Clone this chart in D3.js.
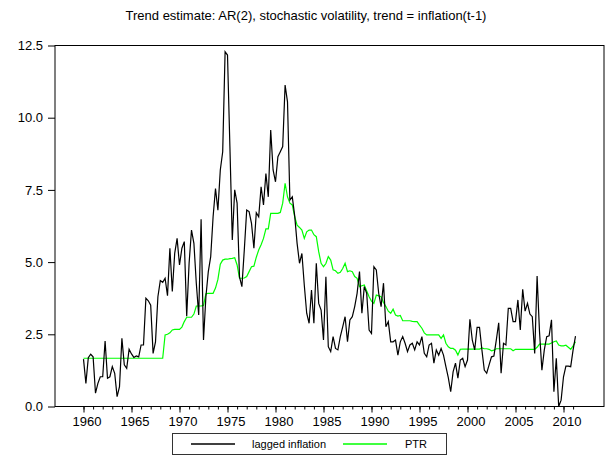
<!DOCTYPE html>
<html lang="en">
<head>
<meta charset="utf-8">
<title>Trend estimate</title>
<script src="https://cdn.jsdelivr.net/npm/d3@7"></script>
<style>
  body { margin: 0; background: #fff; }
  svg text { font-family: "Liberation Sans", Arial, Helvetica, sans-serif; }
</style>
</head>
<body>
<script>

// quarterly data, first obs 1960:1
var startYear = 1960;

// lagged inflation (black)
var inflation = [
  1.64, 0.80, 1.69, 1.81,   // 1960
  1.72, 0.46, 0.80, 1.03,
  1.03, 2.27, 0.98, 1.03,
  1.38, 1.15, 0.34, 0.69,
  2.36, 1.44, 1.32, 1.98,
  1.82, 1.70, 1.75, 1.72,   // 1965
  2.13, 2.13, 3.75, 3.66,
  3.51, 1.84, 2.24, 3.80,
  4.36, 4.30, 4.44, 3.84,
  5.48, 3.98, 5.30, 5.82,
  4.90, 5.48, 5.71, 3.13,   // 1970
  4.96, 6.11, 5.65, 4.27,
  3.17, 6.48, 2.30, 3.80,
  4.67, 5.19, 6.57, 7.55,
  6.80, 8.19, 8.82, 12.28,
  12.17, 9.00, 5.77, 7.50,  // 1975
  7.04, 4.49, 4.15, 5.42,
  6.80, 6.75, 6.34, 5.48,
  6.71, 6.57, 7.61, 6.98,
  8.07, 7.26, 9.57, 8.19,
  7.78, 8.65, 8.82, 9.00,   // 1980
  11.13, 10.55, 7.15, 7.26,
  6.60, 5.65, 4.96, 5.30,
  4.20, 3.23, 2.88, 4.03,
  2.88, 4.96, 3.57, 3.34,
  2.30, 4.49, 2.07, 1.90,   // 1985
  2.42, 2.01, 1.96, 2.42,
  2.76, 3.11, 2.24, 3.00,
  3.11, 3.46, 3.92, 4.67,
  3.23, 4.15, 3.92, 2.65,
  2.53, 4.84, 4.73, 3.92,   // 1990
  3.46, 4.27, 2.76, 2.94,
  2.24, 2.24, 2.30, 1.78,
  2.24, 2.42, 2.19, 1.90,
  2.13, 2.19, 1.96, 2.24,
  2.13, 2.42, 1.84, 1.72,   // 1995
  2.13, 2.19, 1.50, 1.96,
  1.78, 2.01, 1.78, 1.38,
  1.00, 0.51, 1.20, 1.50,
  0.98, 1.61, 1.67, 1.38,
  1.61, 3.02, 2.30, 1.96,   // 2000
  2.74, 2.74, 1.96, 1.26,
  1.15, 1.44, 1.72, 1.75,
  2.30, 2.90, 1.15, 2.19,
  2.13, 3.40, 3.40, 2.94,
  2.94, 3.69, 2.65, 4.06,   // 2005
  3.30, 3.57, 3.20, 3.11,
  1.84, 4.52, 2.60, 1.26,
  1.96, 2.42, 2.45, 3.00,
  0.51, 1.67, 0.00, 0.22,
  1.03, 1.40, 1.40, 1.38,   // 2010
  1.96, 2.44
];

// PTR (green)
var ptr = [
  1.67, 1.67, 1.67, 1.67,   // 1960
  1.67, 1.67, 1.67, 1.67,
  1.67, 1.67, 1.67, 1.67,
  1.67, 1.67, 1.67, 1.67,
  1.67, 1.67, 1.67, 1.67,
  1.67, 1.67, 1.67, 1.67,   // 1965
  1.67, 1.67, 1.67, 1.67,
  1.67, 1.67, 1.67, 1.67,
  1.67, 1.67, 2.48, 2.50,
  2.55, 2.65, 2.67, 2.67,
  2.67, 2.75, 2.94, 3.09,   // 1970
  3.09, 3.09, 3.20, 3.48,
  3.48, 3.48, 3.50, 3.90,
  3.92, 3.92, 3.92, 4.10,
  4.40, 4.93, 5.07, 5.10,
  5.10, 5.12, 5.13, 5.15,   // 1975
  4.90, 4.44, 4.44, 4.45,
  4.50, 4.67, 4.84, 4.86,
  5.17, 5.42, 5.60, 5.82,
  6.15, 6.15, 6.69, 6.69,
  6.69, 6.69, 6.72, 7.04,   // 1980
  7.73, 7.26, 7.04, 6.98,
  6.57, 6.28, 6.20, 6.11,
  5.82, 6.05, 6.11, 6.11,
  5.95, 5.88, 5.36, 4.96,
  4.84, 4.95, 5.19, 5.07,   // 1985
  4.73, 4.70, 4.61, 4.65,
  4.78, 4.96, 4.67, 4.70,
  4.67, 4.50, 4.44, 4.15,
  4.18, 4.21, 4.00, 3.80,
  3.65, 3.57, 3.86, 3.83,   // 1990
  3.80, 3.60, 3.46, 3.30,
  3.23, 3.37, 3.17, 3.13,
  3.15, 2.97, 2.97, 2.97,
  2.97, 2.95, 2.94, 2.94,
  2.82, 2.71, 2.55, 2.48,   // 1995
  2.48, 2.48, 2.48, 2.48,
  2.48, 2.36, 2.48, 2.19,
  2.07, 2.01, 2.01, 1.95,
  1.78, 1.98, 1.99, 1.99,
  1.99, 1.99, 1.99, 1.99,   // 2000
  1.99, 1.99, 2.03, 2.00,
  2.00, 1.98, 1.93, 1.95,
  2.00, 2.00, 2.00, 2.00,
  2.00, 2.00, 2.00, 1.93,
  1.98, 1.98, 1.98, 1.98,   // 2005
  1.98, 1.98, 1.98, 1.98,
  1.98, 2.05, 2.16, 2.16,
  2.16, 2.16, 2.16, 2.20,
  2.24, 2.27, 2.13, 2.10,
  2.10, 2.12, 2.05, 1.98,   // 2010
  2.10, 2.24
];

var yTicks = [0, 2.5, 5, 7.5, 10, 12.5];
var xLabelYears = [1960, 1965, 1970, 1975, 1980, 1985, 1990, 1995, 2000, 2005, 2010];
var seriesNames = ["lagged inflation", "PTR"];
var seriesColors = ["#000000", "#00ff00"];
var title = "Trend estimate: AR(2), stochastic volatility, trend = inflation(t-1)";

var w = 611, h = 457;
var box = { left: 55, right: 604, top: 45.5, bottom: 406.5 };

var svg = d3.select("body").append("svg")
    .attr("width", w)
    .attr("height", h);

svg.append("rect").attr("width", w).attr("height", h).attr("fill", "white");

var xScale = d3.scaleLinear()
    .domain([1960, 2010])
    .range([83.5, 563.5]);

var yScale = d3.scaleLinear()
    .domain([0, 12.5])
    .range([box.bottom, box.top]);

function dateOf(i) { return startYear + i / 4; }

// title
svg.append("text")
    .attr("x", 306)
    .attr("y", 20)
    .attr("text-anchor", "middle")
    .attr("font-size", "13px")
    .text(title);

// frame
svg.append("rect")
    .attr("x", box.left)
    .attr("y", box.top)
    .attr("width", box.right - box.left)
    .attr("height", box.bottom - box.top)
    .attr("fill", "none")
    .attr("stroke", "black")
    .attr("stroke-width", 1);

// y axis
var yAxis = svg.append("g")
    .attr("transform", "translate(" + box.left + ",0)")
    .call(d3.axisLeft(yScale)
      .tickValues(yTicks)
      .tickSize(7)
      .tickPadding(5)
      .tickFormat(d3.format(".1f")));
yAxis.select(".domain").remove();
yAxis.selectAll("text").attr("font-size", "13px").attr("font-family", null).attr("fill", "black");
yAxis.selectAll("line").attr("stroke", "black");

// x axis: yearly minor ticks, long ticks every 5 years
var years = d3.range(1960, 2012);
var xMinor = svg.append("g")
    .attr("transform", "translate(0," + box.bottom + ")")
    .call(d3.axisBottom(xScale).tickValues(years).tickSize(3).tickFormat(""));
xMinor.select(".domain").remove();
xMinor.selectAll("line").attr("stroke", "black");

var xAxis = svg.append("g")
    .attr("transform", "translate(0," + box.bottom + ")")
    .call(d3.axisBottom(xScale)
      .tickValues(xLabelYears)
      .tickSize(6)
      .tickPadding(4)
      .tickFormat(d3.format("d")));
xAxis.select(".domain").remove();
xAxis.selectAll("line").attr("stroke", "black");
xAxis.selectAll("text").attr("font-size", "13px").attr("font-family", null)
    .attr("fill", "black").attr("dx", 3);

// lines
var line = d3.line()
    .x(function(d, i) { return xScale(dateOf(i)); })
    .y(function(d) { return yScale(d); });

svg.append("path")
    .datum(ptr)
    .attr("d", line)
    .attr("fill", "none")
    .attr("stroke", seriesColors[1])
    .attr("stroke-width", 1.2);

svg.append("path")
    .datum(inflation)
    .attr("d", line)
    .attr("fill", "none")
    .attr("stroke", seriesColors[0])
    .attr("stroke-width", 1.2);

// legend
var legend = svg.append("g");
legend.append("rect")
    .attr("x", 172.5).attr("y", 433.5)
    .attr("width", 274).attr("height", 21)
    .attr("fill", "white")
    .attr("stroke", "#333")
    .attr("stroke-width", 1);

var legendX = [191, 343];
var textX = [252, 405];
seriesNames.forEach(function(name, i) {
  legend.append("line")
    .attr("x1", legendX[i]).attr("x2", legendX[i] + 44)
    .attr("y1", 444).attr("y2", 444)
    .attr("stroke", seriesColors[i])
    .attr("stroke-width", 1.5);
  legend.append("text")
    .attr("x", textX[i]).attr("y", 448)
    .attr("font-size", "11px")
    .text(name);
});

</script>
</body>
</html>
